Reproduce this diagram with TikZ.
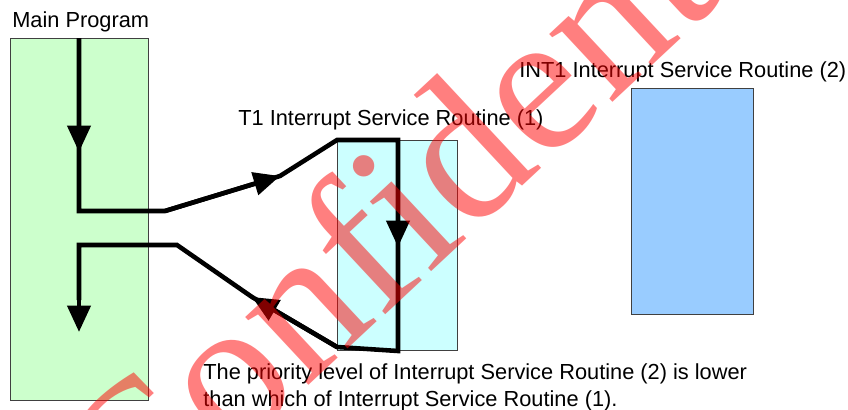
\documentclass[tikz,border=0pt]{standalone}
\usepackage{fontspec}
\setmainfont{Liberation Sans}
\newfontfamily\wmfont{Liberation Serif}
\usetikzlibrary{arrows.meta,fit}
\definecolor{mgreen}{HTML}{CCFFCC}
\definecolor{mcyan}{HTML}{CCFFFF}
\definecolor{mblue}{HTML}{99CCFF}
\begin{document}
\begin{tikzpicture}[x=0.02cm,y=-0.02cm,
  box/.style={draw=black!75, line width=0.5pt, inner sep=0pt},
  lbl/.style={font=\fontsize{12.4}{15.4}\selectfont, inner sep=0pt},
  flow/.style={line width=2.6pt, black},
  tiparrow/.style={line width=2.6pt, black, -{Triangle[length=15pt,width=13pt]}},
]
\useasboundingbox (0,0) rectangle (848,409);
\clip (0,0) rectangle (848,409);
% boxes
\coordinate (m1) at (10,38);   \coordinate (m2) at (148,400);
\coordinate (t1a) at (337,140); \coordinate (t1b) at (457,350);
\coordinate (i1a) at (631,88);  \coordinate (i1b) at (753,314);
\node[box, fill=mgreen, fit=(m1)(m2)] (main) {};
\node[box, fill=mcyan, fit=(t1a)(t1b)] (t1) {};
\node[box, fill=mblue, fit=(i1a)(i1b)] (int1) {};
% labels
\node[lbl, anchor=base west] (lmain) at (12,28) {Main Program};
\node[lbl, anchor=base west] (lt1) at (238,125) {T1 Interrupt Service Routine (1)};
\node[lbl, anchor=base west] (lint) at (519,77) {INT1 Interrupt Service Routine (2)};
\node[lbl, anchor=base west] (note1) at (203,379) {The priority level of Interrupt Service Routine (2) is lower};
\node[lbl, anchor=base west] (note2) at (203,406) {than which of Interrupt Service Routine (1).};
% flow path
\coordinate (s) at (79,38);
\coordinate (d1) at (79,152);
\coordinate (c1) at (79,211);
\coordinate (c2) at (165,211);
\coordinate (d2) at (280,176);
\coordinate (c3) at (337,140);
\coordinate (c4) at (398,140);
\coordinate (d3) at (398,247);
\coordinate (c5) at (398,351);
\coordinate (c6) at (337,347);
\coordinate (d4) at (252,297);
\coordinate (c7) at (177,245);
\coordinate (c8) at (79,245);
\coordinate (e) at (79,332);
\draw[flow] (s) -- (c1) -- (c2) -- (d2) -- (c3) -- (c4) -- (c5) -- (c6) -- (d4) -- (c7) -- (c8) -- (79,300);
\draw[tiparrow] (s) -- (d1);
\draw[tiparrow] (c2) -- (d2);
\draw[tiparrow] (c4) -- (d3);
\draw[tiparrow] (c6) -- (d4);
\draw[tiparrow] (c8) -- (e);
% watermark
\node[rotate=43, anchor=base west, inner sep=0pt, text=red, text opacity=0.5,
      font=\wmfont\fontsize{115}{124}\selectfont] (wm) at (133,550) {Confidential};
\end{tikzpicture}
\end{document}
